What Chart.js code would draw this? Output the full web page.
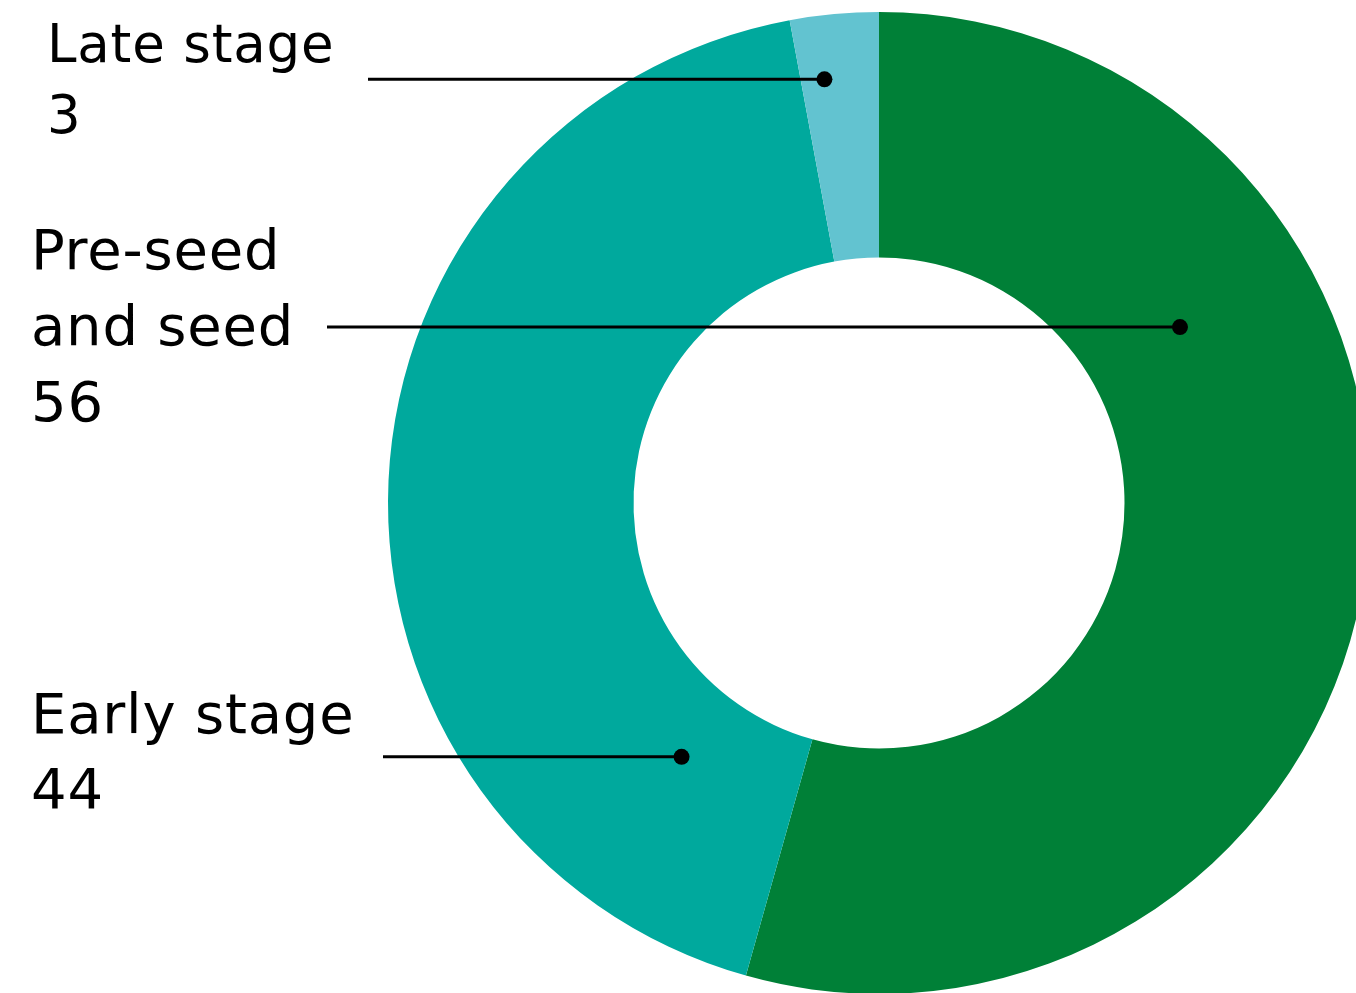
<!DOCTYPE html>
<html>
<head>
<meta charset="utf-8">
<title>Deals by stage</title>
<script src="https://cdn.jsdelivr.net/npm/chart.js@4"></script>
<style>
  html, body { margin: 0; padding: 0; background: #fff; overflow: hidden; }
  #wrap { position: absolute; left: 0; top: 0; width: 1400px; height: 1000px; }
</style>
</head>
<body>
<div id="wrap"><canvas id="stages" width="1400" height="1000"></canvas></div>
<script>
// deals by funding stage
const stageNames = ['Pre-seed and seed', 'Early stage', 'Late stage'];
const stageCounts = [56, 44, 3];
const stageLabelLines = [['Pre-seed', 'and seed'], ['Early stage'], ['Late stage']];
const stageColours = ['#008037', '#00A99D', '#62C3D0'];

// where each callout sits: dot inside its slice, text block on the left
const callouts = [
  { t: 0.305, f: 0.42, textX: 31, baseY: 269, lineH: 76, size: 56, lineFrom: 327 },
  { t: 0.144, f: 0.31, textX: 31, baseY: 733, lineH: 75, size: 56, lineFrom: 383 },
  { t: 0.30, f: 0.74, textX: 47, baseY: 62, lineH: 71, size: 53, lineFrom: 368 },
];

const FONT = '"DejaVu Sans", sans-serif';

const calloutPlugin = {
  id: 'callouts',
  afterDraw(chart) {
    const ctx = chart.ctx;
    const meta = chart.getDatasetMeta(0);
    ctx.save();
    meta.data.forEach((arc, i) => {
      const c = callouts[i];
      const p = arc.getProps(['x', 'y', 'startAngle', 'endAngle', 'innerRadius', 'outerRadius'], true);
      const a = p.startAngle + c.t * (p.endAngle - p.startAngle);
      const r = p.innerRadius + c.f * (p.outerRadius - p.innerRadius);
      const dx = p.x + r * Math.cos(a);
      const dy = p.y + r * Math.sin(a);

      ctx.strokeStyle = '#000';
      ctx.lineWidth = 3;
      ctx.beginPath();
      ctx.moveTo(c.lineFrom, dy);
      ctx.lineTo(dx, dy);
      ctx.stroke();

      ctx.fillStyle = '#000';
      ctx.beginPath();
      ctx.arc(dx, dy, 8, 0, Math.PI * 2);
      ctx.fill();

      const lines = stageLabelLines[i].concat(String(stageCounts[i]));
      ctx.font = c.size + 'px ' + FONT;
      ctx.letterSpacing = '0.8px';
      ctx.textAlign = 'left';
      ctx.textBaseline = 'alphabetic';
      lines.forEach((txt, k) => ctx.fillText(txt, c.textX, c.baseY + k * c.lineH));
    });
    ctx.restore();
  },
};

new Chart(document.getElementById('stages'), {
  type: 'doughnut',
  data: {
    labels: stageNames,
    datasets: [{
      data: stageCounts,
      backgroundColor: stageColours,
      borderWidth: 0,
    }],
  },
  options: {
    responsive: false,
    devicePixelRatio: 1,
    animation: false,
    cutout: '50%',
    layout: { padding: { left: 388, top: 12, right: 30, bottom: 6 } },
    plugins: {
      legend: { display: false },
      tooltip: { enabled: false },
    },
  },
  plugins: [calloutPlugin],
});
</script>
</body>
</html>
